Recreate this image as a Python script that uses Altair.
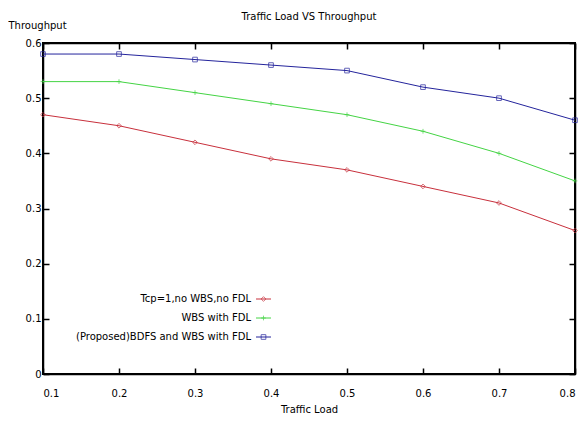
import altair as alt
import pandas as pd

loads = [0.1, 0.2, 0.3, 0.4, 0.5, 0.6, 0.7, 0.8]
series_names = ["Tcp=1,no WBS,no FDL", "WBS with FDL", "(Proposed)BDFS and WBS with FDL"]
tcp_vals = [0.47, 0.45, 0.42, 0.39, 0.37, 0.34, 0.31, 0.26]
wbs_vals = [0.53, 0.53, 0.51, 0.49, 0.47, 0.44, 0.40, 0.35]
bdfs_vals = [0.58, 0.58, 0.57, 0.56, 0.55, 0.52, 0.50, 0.46]
x_ticks = [0.1, 0.2, 0.3, 0.4, 0.5, 0.6, 0.7, 0.8]
y_ticks = [0, 0.1, 0.2, 0.3, 0.4, 0.5, 0.6]
chart_title = "Traffic Load VS Throughput"
colors = ["#c8303c", "#44d444", "#24249c"]
shapes = ["diamond", "M-1,0H1M0,-1V1", "square"]

W, H = 532, 331
FONT = "DejaVu Sans"

rows = []
for name, vals in zip(series_names, [tcp_vals, wbs_vals, bdfs_vals]):
    for x, v in zip(loads, vals):
        rows.append({"load": x, "throughput": v, "series": name})
df = pd.DataFrame(rows)

color_scale = alt.Scale(domain=series_names, range=colors)
shape_scale = alt.Scale(domain=series_names, range=shapes)
x_scale = alt.Scale(domain=[0.1, 0.8], nice=False)
y_scale = alt.Scale(domain=[0, 0.6], nice=False)

common_axis = dict(grid=False, domain=True, domainColor="black", domainWidth=1.5,
                   ticks=True, tickColor="black", tickWidth=1.5,
                   tickSize=alt.ExprRef("-6"),
                   labelFont=FONT, labelFontSize=10, labelColor="black",
                   titleFont=FONT, titleFontSize=10, titleFontWeight="normal",
                   titleColor="black")

x_bottom = alt.X("load:Q", scale=x_scale,
                 axis=alt.Axis(values=x_ticks, format=".1f", title="Traffic Load",
                               labelPadding=20, titleY=38, titleBaseline="alphabetic",
                               orient="bottom", **common_axis))
y_left = alt.Y("throughput:Q", scale=y_scale,
               axis=alt.Axis(values=y_ticks,
                             labelExpr="datum.value == 0 ? '0' : format(datum.value, '.1f')",
                             title="Throughput", labelPadding=8, titleAngle=0,
                             titleAlign="left", titleX=-35, titleY=-18,
                             titleBaseline="middle", orient="left", **common_axis))
x_top = alt.X("load:Q", scale=x_scale,
              axis=alt.Axis(values=x_ticks, labels=False, title=None, orient="top",
                            **common_axis))
y_right = alt.Y("throughput:Q", scale=y_scale,
                axis=alt.Axis(values=y_ticks, labels=False, title=None, orient="right",
                              **common_axis))

lines = alt.Chart(df).mark_line(strokeWidth=1).encode(
    x=x_bottom, y=y_left,
    color=alt.Color("series:N", scale=color_scale, legend=None),
    detail="series:N",
)
points = alt.Chart(df).mark_point(filled=False, size=22, strokeWidth=1).encode(
    x=x_top, y=y_right,
    color=alt.Color("series:N", scale=color_scale, legend=None),
    shape=alt.Shape("series:N", scale=shape_scale, legend=None),
)

title_text = alt.Chart(pd.DataFrame({"title": [chart_title]})).mark_text(
    align="center", baseline="middle", font=FONT, fontSize=10, color="black").encode(
    x=alt.value(W / 2), y=alt.value(-26), text="title:N")

legend_rows_y = [256, 275, 294]
legend_layers = []
for i, name in enumerate(series_names):
    ld = pd.DataFrame({"series": [name]})
    yv = alt.value(legend_rows_y[i])
    legend_layers.append(alt.Chart(ld).mark_rule(strokeWidth=1).encode(
        x=alt.value(213), x2=alt.value(228), y=yv,
        color=alt.Color("series:N", scale=color_scale, legend=None)))
    legend_layers.append(alt.Chart(ld).mark_point(filled=False, size=22, strokeWidth=1).encode(
        x=alt.value(220.5), y=yv,
        color=alt.Color("series:N", scale=color_scale, legend=None),
        shape=alt.Shape("series:N", scale=shape_scale, legend=None)))
    legend_layers.append(alt.Chart(ld).mark_text(align="right", baseline="middle", font=FONT,
                                                 fontSize=10, color="black").encode(
        x=alt.value(208), y=yv, text="series:N"))

chart = alt.layer(lines, points, title_text, *legend_layers).resolve_axis(
    x="independent", y="independent").properties(
    width=W, height=H,
    background="white",
    autosize=alt.AutoSizeParams(type="none"),
    padding={"left": 35, "top": 35, "right": 4, "bottom": 39},
).configure_view(stroke="black", strokeWidth=2)

chart.save("out.html", embed_options={"renderer": "svg", "actions": False})
